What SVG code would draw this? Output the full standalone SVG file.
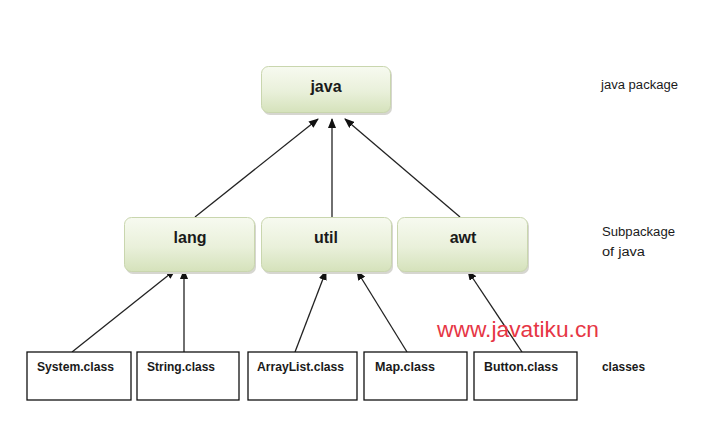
<svg xmlns="http://www.w3.org/2000/svg" width="721" height="435" viewBox="0 0 721 435">
<defs>
<linearGradient id="g" x1="0" y1="0" x2="0" y2="1">
<stop offset="0" stop-color="#f7faf0"/>
<stop offset="0.55" stop-color="#e9f0da"/>
<stop offset="1" stop-color="#d5e2bb"/>
</linearGradient>
<marker id="ah" markerWidth="10" markerHeight="8" refX="9" refY="4" orient="auto" markerUnits="userSpaceOnUse">
<path d="M0,0 L10,4 L0,8 z" fill="#111"/>
</marker>
</defs>
<style>
.pkg{fill:url(#g);stroke:#c9d6ae;stroke-width:1}
.sh{fill:#d6d6d0;stroke:none}
.cls{fill:#fff;stroke:#111;stroke-width:1.3}
.nl{font-family:"Liberation Sans",Arial,sans-serif;font-weight:bold;font-size:16px;fill:#1a1a1a;text-anchor:middle}
.cl{font-family:"Liberation Sans",Arial,sans-serif;font-weight:bold;font-size:12.5px;fill:#1a1a1a}
.sl{font-family:"Liberation Sans",Arial,sans-serif;font-size:12.5px;fill:#1a1a1a}
.wm{font-family:"Liberation Sans",Arial,sans-serif;font-size:22.5px;fill:#e63645}
.ed{stroke:#222;stroke-width:1.3;fill:none;marker-end:url(#ah)}
</style>
<rect width="721" height="435" fill="#fff"/>
<g id="connectors">
<line class="ed" x1="195" y1="217" x2="318" y2="119"/>
<line class="ed" x1="332" y1="217" x2="332" y2="119"/>
<line class="ed" x1="460" y1="217" x2="345" y2="119"/>
<line class="ed" x1="72" y1="352" x2="175" y2="270"/>
<line class="ed" x1="184" y1="352" x2="184" y2="270"/>
<line class="ed" x1="295" y1="352" x2="326" y2="271"/>
<line class="ed" x1="407" y1="352" x2="357" y2="271"/>
<line class="ed" x1="522" y1="352" x2="468" y2="271"/>
</g>
<g id="java">
<rect class="sh" x="263" y="68" width="129" height="47" rx="7"/>
<rect class="pkg" x="261.5" y="66.5" width="129" height="46" rx="7"/>
<text class="nl" x="326" y="92">java</text>
</g>
<g id="lang">
<rect class="sh" x="126" y="219" width="130" height="55" rx="7"/>
<rect class="pkg" x="124.5" y="217.5" width="130" height="54" rx="7"/>
<text class="nl" x="190" y="243">lang</text>
</g>
<g id="util">
<rect class="sh" x="263" y="219" width="130" height="55" rx="7"/>
<rect class="pkg" x="261.5" y="217.5" width="130" height="54" rx="7"/>
<text class="nl" x="326" y="243">util</text>
</g>
<g id="awt">
<rect class="sh" x="399" y="219" width="130" height="55" rx="7"/>
<rect class="pkg" x="397.5" y="217.5" width="130" height="54" rx="7"/>
<text class="nl" x="463" y="243">awt</text>
</g>
<g id="system">
<rect class="cls" x="27" y="352" width="104" height="48"/>
<text class="cl" x="37" y="370.5" textLength="77" lengthAdjust="spacingAndGlyphs">System.class</text>
</g>
<g id="string">
<rect class="cls" x="137" y="352" width="102" height="48"/>
<text class="cl" x="147" y="370.5" textLength="68" lengthAdjust="spacingAndGlyphs">String.class</text>
</g>
<g id="arraylist">
<rect class="cls" x="248" y="352" width="109" height="48"/>
<text class="cl" x="257" y="370.5" textLength="87" lengthAdjust="spacingAndGlyphs">ArrayList.class</text>
</g>
<g id="map">
<rect class="cls" x="364" y="352" width="103" height="48"/>
<text class="cl" x="375" y="370.5" textLength="60" lengthAdjust="spacingAndGlyphs">Map.class</text>
</g>
<g id="button">
<rect class="cls" x="474" y="352" width="103" height="48"/>
<text class="cl" x="484" y="370.5" textLength="74" lengthAdjust="spacingAndGlyphs">Button.class</text>
</g>
<text class="sl" x="601" y="89" textLength="77" lengthAdjust="spacingAndGlyphs">java package</text>
<text class="sl" x="602" y="236" textLength="73" lengthAdjust="spacingAndGlyphs">Subpackage</text>
<text class="sl" x="602" y="256" textLength="43" lengthAdjust="spacingAndGlyphs">of java</text>
<text class="sl" x="602" y="370.5" textLength="43" lengthAdjust="spacingAndGlyphs" font-weight="bold">classes</text>
<text class="wm" x="437" y="337" textLength="162" lengthAdjust="spacingAndGlyphs">www.javatiku.cn</text>
</svg>
